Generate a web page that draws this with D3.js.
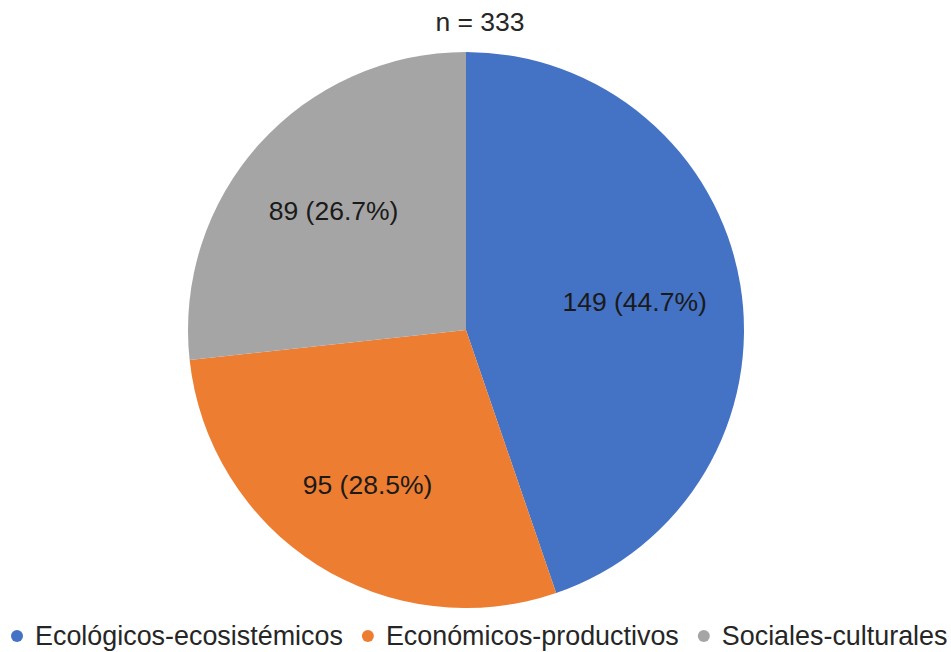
<!DOCTYPE html>
<html>
<head>
<meta charset="utf-8">
<script src="https://cdn.jsdelivr.net/npm/d3@7/dist/d3.min.js"></script>
<style>
  html, body { margin: 0; padding: 0; background: #fff; }
  svg { display: block; font-family: "Liberation Sans", Arial, sans-serif; }
</style>
</head>
<body>
<svg id="chart" width="951" height="652"></svg>
<script>
// Categories and counts
const categories = ["Ecológicos-ecosistémicos", "Económicos-productivos", "Sociales-culturales"];
const counts = [149, 95, 89];
const percents = ["44.7%", "28.5%", "26.7%"];
const colors = ["#4472C4", "#ED7D31", "#A5A5A5"];
const total = 333;

const svg = d3.select("#chart");
const W = 951, H = 652;
const cx = 466, cy = 330, R = 278;
// distance of each data label from the centre, as a share of the radius
const labelFrac = [0.615, 0.66, 0.64];

// Title
svg.append("text")
  .attr("x", 480).attr("y", 31)
  .attr("text-anchor", "middle")
  .attr("font-size", 26.5)
  .attr("fill", "#262626")
  .text("n = " + total);

const data = categories.map((c, i) => ({ name: c, value: counts[i], pct: percents[i], color: colors[i] }));

const pie = d3.pie().sort(null).value(d => d.value);
const arc = d3.arc().innerRadius(0).outerRadius(R);

const g = svg.append("g").attr("transform", `translate(${cx},${cy})`);
const arcs = pie(data);

g.selectAll("path.slice")
  .data(arcs)
  .join("path")
  .attr("class", "slice")
  .attr("d", arc)
  .attr("fill", d => d.data.color);

g.selectAll("text.lbl")
  .data(arcs)
  .join("text")
  .attr("class", "lbl")
  .attr("transform", (d, i) => {
    const r = R * labelFrac[i];
    return `translate(${d3.arc().innerRadius(r).outerRadius(r).centroid(d)})`;
  })
  .attr("text-anchor", "middle")
  .attr("dy", "0.35em")
  .attr("font-size", 26.5)
  .attr("fill", "#1a1a1a")
  .text(d => `${d.data.value} (${d.data.pct})`);

// Legend
const legend = svg.append("g").attr("transform", `translate(0, 636)`);
const items = legend.selectAll("g.item")
  .data(data)
  .join("g")
  .attr("class", "item");
items.append("circle").attr("r", 6).attr("fill", d => d.color);
items.append("text")
  .attr("x", 18)
  .attr("dy", "0.35em")
  .attr("font-size", 26.9)
  .attr("fill", "#262626")
  .text(d => d.name);

// lay the legend entries out in a row
let x = 17;
const offs = [];
items.each(function () {
  const w = d3.select(this).select("text").node().getComputedTextLength();
  offs.push(x);
  x += 18 + w + 25;
});
items.attr("transform", (d, i) => `translate(${offs[i]},0)`);
</script>
</body>
</html>
